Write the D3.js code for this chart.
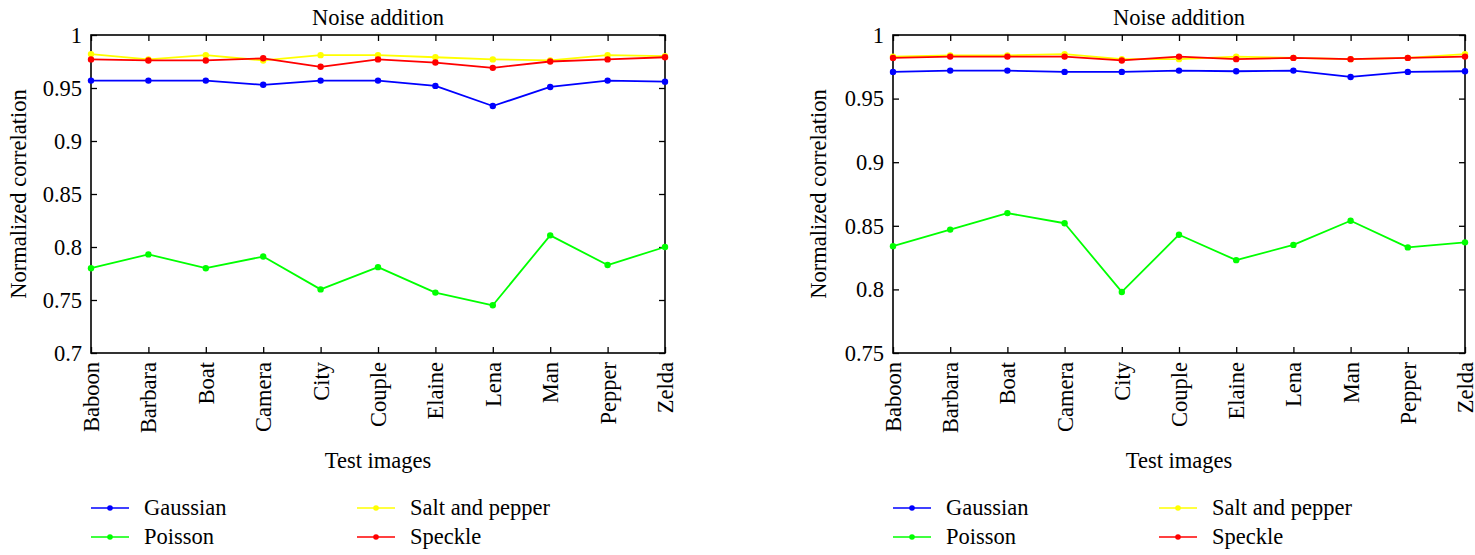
<!DOCTYPE html>
<html>
<head>
<meta charset="utf-8">
<script src="https://cdn.jsdelivr.net/npm/d3@7"></script>
<style>
  html, body { margin: 0; padding: 0; background: #fff; }
  svg { display: block; }
  svg text { font-family: "Liberation Serif", "Times New Roman", Times, serif; fill: #000; }
</style>
</head>
<body>
<svg id="chart" width="1475" height="555"></svg>
<script>
// ---------- data ----------
const categories = ["Baboon","Barbara","Boat","Camera","City","Couple","Elaine","Lena","Man","Pepper","Zelda"];
const seriesNames = ["Gaussian","Poisson","Salt and pepper","Speckle"];
const seriesColors = ["#0000ff","#00ff00","#ffff00","#ff0000"];

// Left panel
const leftGaussian = [0.957,0.957,0.957,0.953,0.957,0.957,0.952,0.933,0.951,0.957,0.956];
const leftPoisson  = [0.780,0.793,0.780,0.791,0.760,0.781,0.757,0.745,0.811,0.783,0.800];
const leftSalt     = [0.982,0.977,0.981,0.976,0.981,0.981,0.979,0.977,0.976,0.981,0.980];
const leftSpeckle  = [0.977,0.976,0.976,0.978,0.970,0.977,0.974,0.969,0.975,0.977,0.979];
const leftYTicks = [0.7,0.75,0.8,0.85,0.9,0.95,1];
const leftYTickLabels = ["0.7","0.75","0.8","0.85","0.9","0.95","1"];

// Right panel
const rightGaussian = [0.971,0.972,0.972,0.971,0.971,0.972,0.9715,0.972,0.967,0.971,0.9715];
const rightPoisson  = [0.834,0.847,0.860,0.852,0.798,0.843,0.823,0.835,0.854,0.833,0.837];
const rightSalt     = [0.983,0.984,0.984,0.985,0.981,0.981,0.983,0.982,0.981,0.982,0.985];
const rightSpeckle  = [0.982,0.983,0.983,0.983,0.980,0.983,0.981,0.982,0.981,0.982,0.983];
const rightYTicks = [0.75,0.8,0.85,0.9,0.95,1];
const rightYTickLabels = ["0.75","0.8","0.85","0.9","0.95","1"];

const titleText = "Noise addition";
const xLabel = "Test images";
const yLabel = "Normalized correlation";

// ---------- drawing ----------
const svg = d3.select("#chart");
const FS = 22.5;
const FONT = '"Liberation Serif", "Times New Roman", Times, serif';

function panel(opts) {
  const { left, right, top, bottom, yDomain, yTicks, yTickLabels, series, yLabelX, legendX } = opts;
  const g = svg.append("g");
  const x = d3.scalePoint().domain(categories).range([left, right]).padding(0);
  const y = d3.scaleLinear().domain(yDomain).range([bottom, top]);

  // box
  g.append("rect").attr("x", left).attr("y", top)
    .attr("width", right - left).attr("height", bottom - top)
    .attr("fill", "none").attr("stroke", "#000").attr("stroke-width", 1.6);

  const labelMap = new Map(yTicks.map((t, i) => [t, yTickLabels[i]]));

  // left axis
  const ya = g.append("g").attr("transform", `translate(${left},0)`)
    .call(d3.axisLeft(y).tickValues(yTicks).tickFormat(d => labelMap.get(d))
      .tickSizeInner(-6).tickSizeOuter(0).tickPadding(9));
  ya.attr("font-family", FONT).attr("font-size", FS);
  ya.select(".domain").remove();
  ya.selectAll("line").attr("stroke-width", 1.3);

  // right axis ticks
  const yr = g.append("g").attr("transform", `translate(${right},0)`)
    .call(d3.axisRight(y).tickValues(yTicks).tickFormat("").tickSizeInner(-6).tickSizeOuter(0));
  yr.select(".domain").remove();
  yr.selectAll("line").attr("stroke-width", 1.3);

  // bottom axis
  const xa = g.append("g").attr("transform", `translate(0,${bottom})`)
    .call(d3.axisBottom(x).tickSizeInner(-6).tickSizeOuter(0));
  xa.attr("font-family", FONT).attr("font-size", FS);
  xa.select(".domain").remove();
  xa.selectAll("line").attr("stroke-width", 1.3);
  xa.selectAll("text")
    .attr("transform", "rotate(-90)")
    .attr("x", -9).attr("y", 0).attr("dy", "0.33em")
    .attr("text-anchor", "end");

  // top axis ticks
  const xt = g.append("g").attr("transform", `translate(0,${top})`)
    .call(d3.axisTop(x).tickFormat("").tickSizeInner(-6).tickSizeOuter(0));
  xt.select(".domain").remove();
  xt.selectAll("line").attr("stroke-width", 1.3);

  // title
  g.append("text").attr("x", (left + right) / 2).attr("y", 25)
    .attr("text-anchor", "middle").attr("font-size", FS).text(titleText);
  // x label
  g.append("text").attr("x", (left + right) / 2).attr("y", 468)
    .attr("text-anchor", "middle").attr("font-size", FS).text(xLabel);
  // y label
  g.append("text").attr("transform", `translate(${yLabelX},${(top + bottom) / 2}) rotate(-90)`)
    .attr("text-anchor", "middle").attr("dy", "0.35em").attr("font-size", FS).text(yLabel);

  // lines
  const line = d3.line().x((d, i) => x(categories[i])).y(d => y(d));
  series.forEach((vals, si) => {
    g.append("path").datum(vals).attr("d", line)
      .attr("fill", "none").attr("stroke", seriesColors[si]).attr("stroke-width", 1.8)
      .attr("stroke-linejoin", "round");
    g.selectAll(null).data(vals).enter().append("circle")
      .attr("cx", (d, i) => x(categories[i])).attr("cy", d => y(d))
      .attr("r", 3.2).attr("fill", seriesColors[si]);
  });

  // legend (two columns)
  const legendPos = [
    [legendX, 508], [legendX, 537], [legendX + 266, 508], [legendX + 266, 537]
  ];
  seriesNames.forEach((name, si) => {
    const [lx, ly] = legendPos[si];
    g.append("line").attr("x1", lx).attr("x2", lx + 38).attr("y1", ly).attr("y2", ly)
      .attr("stroke", seriesColors[si]).attr("stroke-width", 1.6);
    g.append("circle").attr("cx", lx + 19).attr("cy", ly).attr("r", 2.8).attr("fill", seriesColors[si]);
    g.append("text").attr("x", lx + 53).attr("y", ly + 7).attr("font-size", FS).text(name);
  });
}

panel({
  left: 91, right: 665, top: 35, bottom: 353,
  yDomain: [0.7, 1], yTicks: leftYTicks, yTickLabels: leftYTickLabels,
  series: [leftGaussian, leftPoisson, leftSalt, leftSpeckle],
  yLabelX: 18, legendX: 91
});
panel({
  left: 893, right: 1465, top: 35, bottom: 353,
  yDomain: [0.75, 1], yTicks: rightYTicks, yTickLabels: rightYTickLabels,
  series: [rightGaussian, rightPoisson, rightSalt, rightSpeckle],
  yLabelX: 818, legendX: 893
});
</script>
</body>
</html>
